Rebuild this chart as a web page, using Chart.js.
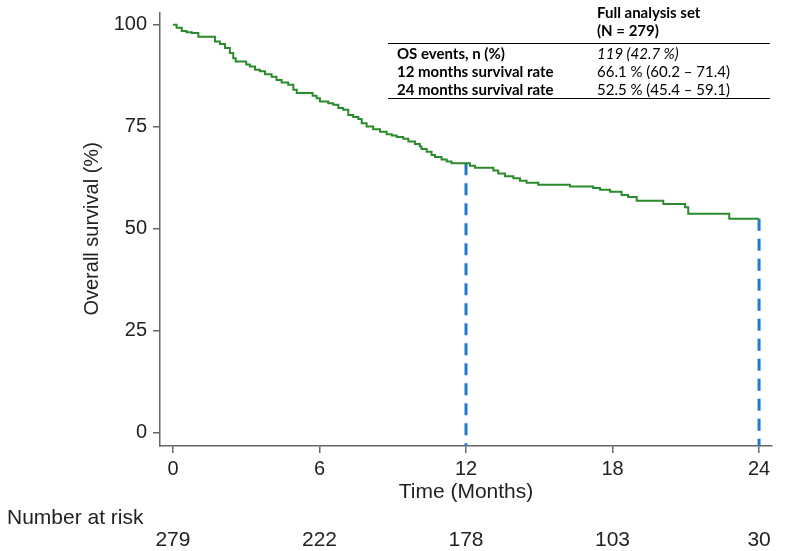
<!DOCTYPE html>
<html>
<head>
<meta charset="utf-8">
<script src="https://cdn.jsdelivr.net/npm/chart.js@4.4.1/dist/chart.umd.min.js"></script>
<style>
  body { margin: 0; background: #fff; }
  #wrap { position: relative; width: 787px; height: 551px; }
  #summary {
    position: absolute; left: 388px; top: 3px; width: 382px;
    border-collapse: collapse; font-family: Lato, "Open Sans", sans-serif;
    font-size: 15px; line-height: 18px; color: #000;
  }
  #summary td { padding: 0; white-space: nowrap; }
  #summary td.lab { padding-left: 9px; width: 200px; font-weight: bold; }
  #summary tr.head td { font-weight: bold; }
  #summary tr.head2 td { padding-bottom: 4px; border-bottom: 1px solid #000; }
  #summary tr.last td { border-bottom: 1px solid #000; }
</style>
</head>
<body>
<div id="wrap">
  <canvas id="kmChart" width="787" height="551"></canvas>
  <table id="summary">
    <tr class="head"><td class="lab"></td><td>Full analysis set</td></tr>
    <tr class="head head2"><td class="lab"></td><td>(N = 279)</td></tr>
    <tr><td class="lab">OS events, n (%)</td><td><i>119 (42.7 %)</i></td></tr>
    <tr><td class="lab">12 months survival rate</td><td>66.1 % (60.2 – 71.4)</td></tr>
    <tr class="last"><td class="lab">24 months survival rate</td><td>52.5 % (45.4 – 59.1)</td></tr>
  </table>
</div>
<script>
// Kaplan-Meier steps (months, % surviving)
const kmTimes = [0, 0.15, 0.36, 0.56, 0.77, 1.04, 1.72, 1.92, 2.13, 2.33, 2.47, 2.57, 3.0, 3.15, 3.36,
  3.56, 3.77, 4.04, 4.24, 4.45, 4.72, 4.93, 5.07, 5.72, 5.88, 6.02, 6.36, 6.56, 6.77, 6.97,
  7.18, 7.38, 7.59, 7.73, 7.93, 8.20, 8.48, 8.75, 8.96, 9.16, 9.43, 9.64, 9.91, 10.11, 10.18,
  10.39, 10.59, 10.73, 11.0, 11.21, 11.41, 12.16, 12.37, 13.12, 13.32, 13.6, 13.94, 14.21, 14.48,
  14.96, 16.26, 17.21, 17.49, 17.9, 18.37, 18.64, 18.99, 20.08, 20.97, 21.1, 22.78, 24.0];
const kmSurvival = [100, 99.3, 98.5, 98.2, 98.0, 97.1, 95.9, 95.3, 94.3, 93.1, 91.8, 91.0, 90.3, 89.8, 89.0,
  88.6, 87.9, 87.3, 86.5, 85.9, 85.3, 84.1, 83.3, 82.6, 82.0, 81.2, 80.8, 80.4, 79.6, 79.2,
  77.9, 77.4, 76.9, 75.9, 75.1, 74.4, 73.8, 73.2, 72.9, 72.5, 72.1, 71.4, 70.8, 70.2, 69.6,
  68.9, 68.1, 67.6, 67.0, 66.5, 66.1, 65.5, 65.0, 64.3, 63.6, 62.9, 62.4, 61.8, 61.3,
  60.8, 60.4, 60.0, 59.6, 59.1, 58.3, 57.8, 56.9, 56.1, 55.3, 53.7, 52.5, 52.5];

// landmark survival rates (dashed lines)
const landmarkTimes = [12, 24];
const landmarkRates = [66.1, 52.5];

// axes and risk table
const xTicks = [0, 6, 12, 18, 24];
const yTicks = [0, 25, 50, 75, 100];
const riskTimes = [0, 6, 12, 18, 24];
const atRisk = [279, 222, 178, 103, 30];

const X_MIN = -0.53, X_MAX = 24.53;
const Y_MIN = -3.2, Y_MAX = 102.9;
const FONT = '"Liberation Sans", Arial, sans-serif';

const kmData = kmTimes.map((t, i) => ({ x: t, y: kmSurvival[i] }));

const datasets = [{
  data: kmData,
  borderColor: '#2b8a2b',
  borderWidth: 2,
  stepped: 'before',
  pointRadius: 0,
  fill: false
}];
landmarkTimes.forEach((t, i) => {
  datasets.push({
    data: [{ x: t, y: landmarkRates[i] }, { x: t, y: Y_MIN }],
    borderColor: '#1f78d1',
    borderWidth: 3,
    borderDash: [12, 8],
    pointRadius: 0,
    fill: false
  });
});

// extra text below the axis and the rotated y title
const riskTable = {
  id: 'riskTable',
  afterDraw(chart) {
    const { ctx, scales: { x, y } } = chart;
    ctx.save();
    ctx.fillStyle = '#222';
    ctx.font = '21px ' + FONT;
    ctx.textBaseline = 'middle';
    ctx.textAlign = 'center';
    ctx.fillText('Time (Months)', x.getPixelForValue(12), 492);
    riskTimes.forEach((t, i) => {
      ctx.fillText(String(atRisk[i]), x.getPixelForValue(t), 540);
    });
    ctx.textAlign = 'left';
    ctx.fillText('Number at risk', 7, 518);
    ctx.font = '20px ' + FONT;
    ctx.textAlign = 'center';
    ctx.translate(92, y.getPixelForValue(50));
    ctx.rotate(-Math.PI / 2);
    ctx.fillText('Overall survival (%)', 0, 0);
    ctx.restore();
  }
};

const axisStyle = {
  grid: { drawOnChartArea: false, tickLength: 7, color: '#666', lineWidth: 1.5 },
  border: { color: '#666', width: 1.5 }
};

new Chart(document.getElementById('kmChart'), {
  type: 'line',
  data: { datasets: datasets },
  options: {
    responsive: false,
    animation: false,
    layout: { padding: { top: 13, right: 15, left: 0, bottom: 0 } },
    plugins: { legend: { display: false }, tooltip: { enabled: false } },
    scales: {
      x: {
        type: 'linear',
        min: X_MIN,
        max: X_MAX,
        ...axisStyle,
        afterBuildTicks: s => { s.ticks = xTicks.map(v => ({ value: v })); },
        afterFit: s => { s.height = 105; s.paddingLeft = 0; s.paddingRight = 0; },
        ticks: { font: { size: 20, family: FONT }, color: '#222', padding: 4, autoSkip: false, maxRotation: 0 }
      },
      y: {
        min: Y_MIN,
        max: Y_MAX,
        ...axisStyle,
        afterBuildTicks: s => { s.ticks = yTicks.map(v => ({ value: v })); },
        afterFit: s => { s.width = 160; s.paddingTop = 0; s.paddingBottom = 0; },
        ticks: { font: { size: 20, family: FONT }, color: '#222', padding: 6 }
      }
    }
  },
  plugins: [riskTable]
});
</script>
</body>
</html>
